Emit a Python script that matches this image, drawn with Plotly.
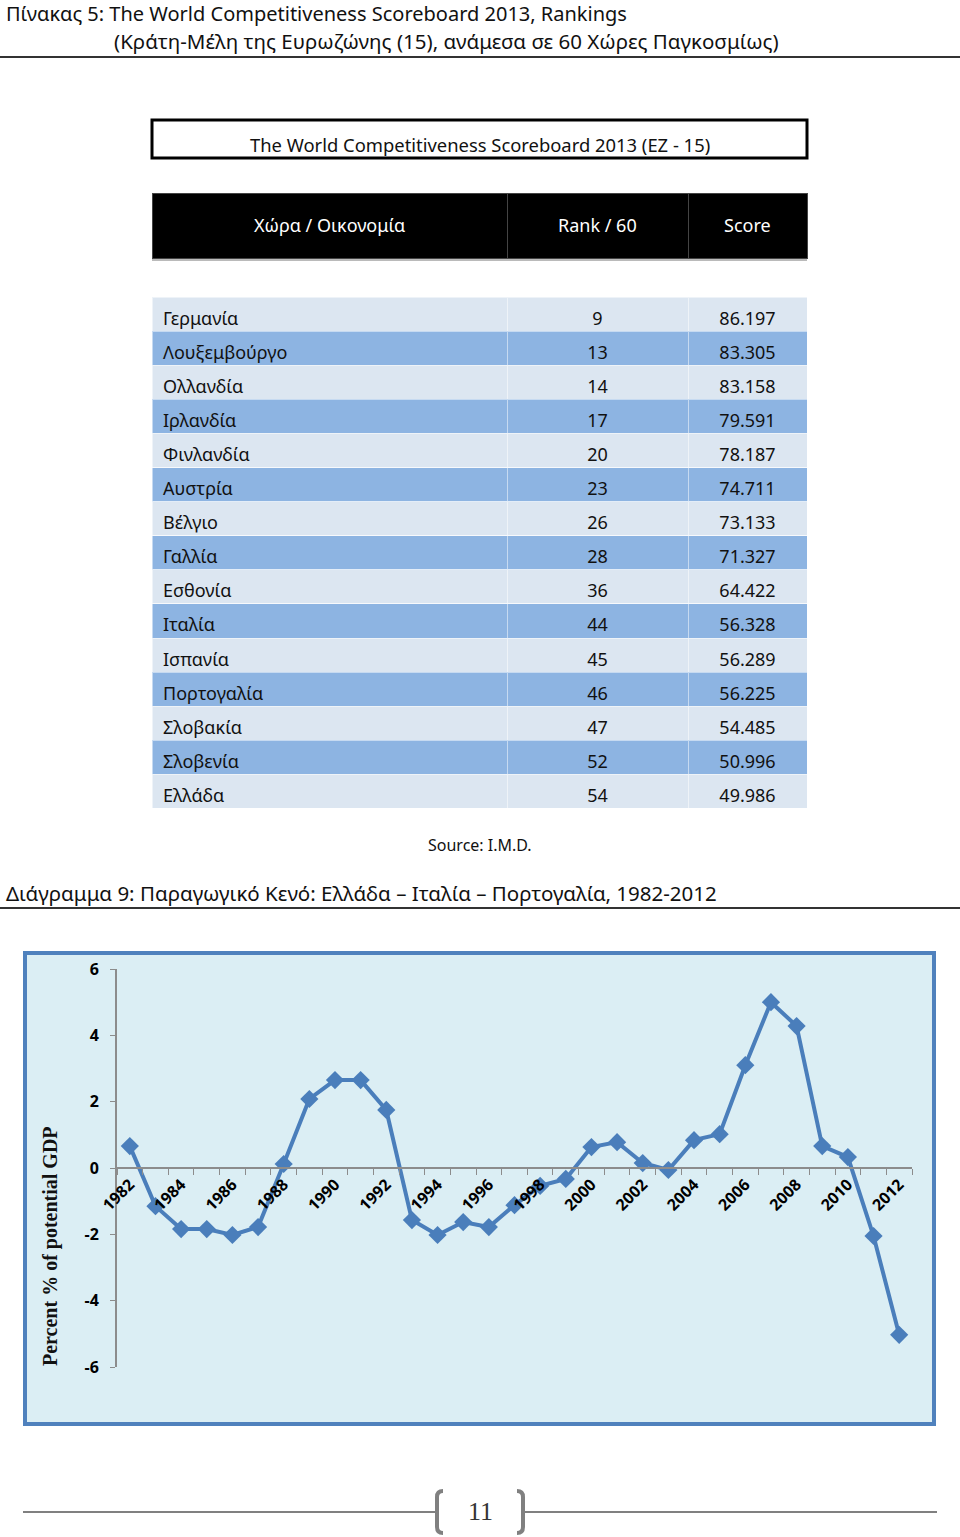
import plotly.graph_objects as go

W, H = 960, 1537

# table data
countries = ["Γερμανία", "Λουξεμβούργο", "Ολλανδία", "Ιρλανδία", "Φινλανδία",
             "Αυστρία", "Βέλγιο", "Γαλλία", "Εσθονία", "Ιταλία",
             "Ισπανία", "Πορτογαλία", "Σλοβακία", "Σλοβενία", "Ελλάδα"]
ranks = [9, 13, 14, 17, 20, 23, 26, 28, 36, 44, 45, 46, 47, 52, 54]
scores = ["86.197", "83.305", "83.158", "79.591", "78.187", "74.711", "73.133", "71.327",
          "64.422", "56.328", "56.289", "56.225", "54.485", "50.996", "49.986"]
header_labels = ["Χώρα / Οικονομία", "Rank / 60", "Score"]

# output gap chart data
years = list(range(1982, 2013))
output_gap = [0.66, -1.15, -1.84, -1.84, -2.02, -1.78, 0.12, 2.08, 2.65, 2.65,
              1.75, -1.57, -2.02, -1.63, -1.78, -1.12, -0.54, -0.33, 0.63, 0.78,
              0.15, -0.06, 0.84, 1.02, 3.10, 5.00, 4.28, 0.66, 0.33, -2.05, -5.03]
year_ticks = list(range(1982, 2013, 2))
y_ticks = [-6, -4, -2, 0, 2, 4, 6]

FONT = "Noto Sans"
LIGHT = "#DCE6F1"
DARK = "#8DB4E2"
BLUE = "#4A7EBB"
CLEAR = "rgba(0,0,0,0)"

col_edges = [152, 507, 688, 807]
col_widths = [355, 181, 119]


def px(x):
    return x / W


def py(y):
    return 1 - y / H


fig = go.Figure()

# table header (labels drawn as annotations so they sit centred vertically)
fig.add_trace(go.Table(
    domain=dict(x=[px(152), px(807)], y=[py(270), py(193)]),
    columnwidth=col_widths,
    header=dict(values=["", "", ""], fill_color="black", height=65,
                line=dict(color="#444", width=1)),
))

# table body: row fills (blank white header row used as a spacer)
row_colors = [LIGHT if i % 2 == 0 else DARK for i in range(len(countries))]
body_domain = dict(x=[px(152), px(807)], y=[py(840), py(287)])
fig.add_trace(go.Table(
    domain=body_domain, columnwidth=col_widths,
    header=dict(values=["", "", ""], height=10, fill_color="white",
                line=dict(color="white", width=0)),
    cells=dict(values=[[""] * len(countries)] * 3,
               fill_color=[row_colors] * 3, height=34.1,
               line=dict(color="rgba(255,255,255,0.5)", width=1)),
))
# table body: text layer, nudged down so it sits in the middle of each row
fig.add_trace(go.Table(
    domain=body_domain, columnwidth=col_widths,
    header=dict(values=["", "", ""], height=16, fill_color=CLEAR,
                line=dict(color=CLEAR, width=0)),
    cells=dict(values=[["\u2009" + c for c in countries], ranks, scores],
               fill_color=CLEAR, height=34.1,
               line=dict(color=CLEAR, width=0),
               font=dict(family=FONT, size=18, color="#111"),
               align=["left", "center", "center"]),
))

# line chart
fig.add_trace(go.Scatter(
    x=years, y=output_gap, mode="lines+markers",
    line=dict(color=BLUE, width=4),
    marker=dict(symbol="diamond", size=14, color=BLUE),
    showlegend=False, hoverinfo="x+y",
))

shapes = [
    dict(type="line", xref="paper", yref="paper", x0=0, x1=1, y0=py(57), y1=py(57),
         line=dict(color="#333", width=2)),
    dict(type="rect", xref="paper", yref="paper", x0=px(152), x1=px(807), y0=py(158), y1=py(120),
         line=dict(color="black", width=3), fillcolor="white"),
    dict(type="line", xref="paper", yref="paper", x0=px(152), x1=px(807), y0=py(260), y1=py(260),
         line=dict(color="#777", width=1)),
    dict(type="line", xref="paper", yref="paper", x0=0, x1=1, y0=py(908), y1=py(908),
         line=dict(color="#333", width=2)),
    dict(type="rect", xref="paper", yref="paper", x0=px(25), x1=px(934), y0=py(1424), y1=py(953),
         line=dict(color="#4F81BD", width=4), fillcolor="#DBEEF4", layer="below"),
    # footer rule and brackets
    dict(type="line", xref="paper", yref="paper", x0=px(23), x1=px(435), y0=py(1512), y1=py(1512),
         line=dict(color="#808080", width=2)),
    dict(type="line", xref="paper", yref="paper", x0=px(525), x1=px(937), y0=py(1512), y1=py(1512),
         line=dict(color="#808080", width=2)),
]


def bracket(x_edge, x_in):
    p = "M {},{} Q {},{} {},{} L {},{} Q {},{} {},{}".format(
        px(x_in), py(1491), px(x_edge), py(1491), px(x_edge), py(1497),
        px(x_edge), py(1527), px(x_edge), py(1533), px(x_in), py(1533))
    return dict(type="path", xref="paper", yref="paper", path=p,
                line=dict(color="#808080", width=4))


shapes += [bracket(437, 443), bracket(523, 517)]

annotations = [
    dict(text="Πίνακας 5: The World Competitiveness Scoreboard 2013, Rankings",
         x=px(4), y=py(13), xanchor="left", yanchor="middle", font=dict(size=20)),
    dict(text="(Κράτη-Μέλη της Ευρωζώνης (15), ανάμεσα σε 60 Χώρες Παγκοσμίως)",
         x=px(112), y=py(41), xanchor="left", yanchor="middle", font=dict(size=20.5)),
    dict(text="The World Competitiveness Scoreboard 2013 (EZ - 15)",
         x=px(480), y=py(144), xanchor="center", yanchor="middle", font=dict(size=18.4)),
    dict(text="Source: I.M.D.", x=px(480), y=py(845), xanchor="center", yanchor="middle",
         font=dict(size=16)),
    dict(text="Διάγραμμα 9: Παραγωγικό Κενό: Ελλάδα – Ιταλία – Πορτογαλία, 1982-2012",
         x=px(4), y=py(893), xanchor="left", yanchor="middle", font=dict(size=20.5)),
    dict(text="<b>Percent % of potential GDP</b>", x=px(50), y=py(1246), textangle=-90,
         xanchor="center", yanchor="middle",
         font=dict(family="Liberation Serif", size=20, color="#111")),
    dict(text="11", x=px(480), y=py(1511), xanchor="center", yanchor="middle",
         font=dict(family="Liberation Serif", size=26, color="#333")),
]
for i, lab in enumerate(header_labels):
    annotations.append(dict(text=lab, x=px((col_edges[i] + col_edges[i + 1]) / 2), y=py(225),
                            xanchor="center", yanchor="middle",
                            font=dict(size=18, color="white")))
for a in annotations:
    a.update(xref="paper", yref="paper", showarrow=False)
    a.setdefault("font", {})
    a["font"].setdefault("family", FONT)
    a["font"].setdefault("color", "#111")

fig.update_layout(
    width=W, height=H, margin=dict(l=0, r=0, t=0, b=0, autoexpand=False),
    paper_bgcolor="white", plot_bgcolor=CLEAR,
    font=dict(family=FONT, color="#111"),
    shapes=shapes, annotations=annotations,
    xaxis=dict(domain=[px(117), px(912)], range=[1981.5, 2012.5], anchor="free",
               position=py(1168), showgrid=False, zeroline=False, automargin=False,
               showline=True, linecolor="#8C8C8C", linewidth=2,
               tickmode="array", tickvals=year_ticks, ticktext=[str(y) for y in year_ticks],
               ticks="", tickangle=-45,
               tickfont=dict(family=FONT, size=16, color="black", weight="bold"),
               minor=dict(tickmode="linear", tick0=1981.5, dtick=1, ticks="outside",
                          ticklen=6, tickcolor="#8C8C8C", tickwidth=1, showgrid=False)),
    yaxis=dict(domain=[py(1367), py(969)], range=[-6, 6], showgrid=False, zeroline=False,
               automargin=False,
               showline=True, linecolor="#8C8C8C", linewidth=2,
               tickmode="array", tickvals=y_ticks, ticktext=[str(v) for v in y_ticks],
               ticks="outside", ticklen=5, tickcolor="#8C8C8C", ticklabelstandoff=8,
               tickfont=dict(family=FONT, size=16, color="black", weight="bold")),
)

fig.write_html("out.html", config={"displayModeBar": False},
               post_script="document.body.style.margin='0px';"
                           "document.body.style.overflow='hidden';")
